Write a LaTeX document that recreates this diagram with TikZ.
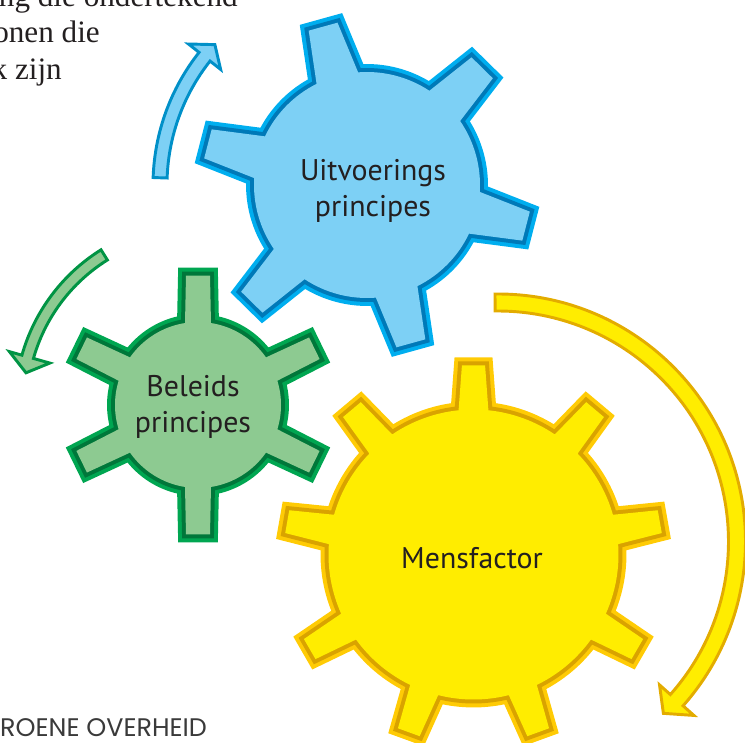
\documentclass[tikz,border=0pt]{standalone}
\usepackage{fontspec}
\setmainfont{Liberation Serif}
\newfontfamily\cogfont{PT Sans}
\newfontfamily\footfont{Poppins}
\definecolor{bluefill}{HTML}{7DD0F5}
\definecolor{blueout}{HTML}{00AEEF}
\definecolor{bluein}{HTML}{0079B8}
\definecolor{bluearrow}{HTML}{0090C8}
\definecolor{greenfill}{HTML}{8DCA91}
\definecolor{greenout}{HTML}{00A651}
\definecolor{greenin}{HTML}{00773A}
\definecolor{greenarrow}{HTML}{009444}
\definecolor{yellowfill}{HTML}{FFED00}
\definecolor{yellowout}{HTML}{FFCB05}
\definecolor{yellowin}{HTML}{D9A300}
\definecolor{yellowarrow}{HTML}{E3AC00}
\definecolor{inktext}{HTML}{231F20}
\definecolor{footgray}{HTML}{3A3A3A}

\begin{document}
\begin{tikzpicture}[x=0.03cm,y=0.03cm,
  cog/.style n args={3}{preaction={draw=#2,line width=13.6pt,line join=miter},
    preaction={draw=#3,line width=6.8pt,line join=miter},fill=#1},
  bentarrow/.style n args={2}{fill=#1,draw=#2,line width=2.5pt,line join=miter},
  cogtext/.style={font=\cogfont\fontsize{25.5}{30.6}\selectfont,text=inktext,align=center,inner sep=0pt}]
\useasboundingbox (0,0) rectangle (745,742);
\clip (0,0) rectangle (745,742);
% gears
\path[cog={bluefill}{blueout}{bluein},shift={(367,557)},rotate=45.5]
  (-49:113) \foreach \a [remember=\a as \b (initially -60)] in {0,60,...,300}
  { arc[start angle=\b+11,end angle=\a-11,radius=113] -- (\a-5.2:165) -- (\a+5.2:165) -- (\a+11:113) } -- cycle;
\path[cog={greenfill}{greenout}{greenin},shift={(198,337)}]
  (-17:83) \foreach \a [remember=\a as \b (initially -26)] in {26,90,154,206,270,334}
  { arc[start angle=\b+9,end angle=\a-9,radius=83] -- (\a-5.3:130) -- (\a+5.3:130) -- (\a+9:83) } -- cycle;
\path[cog={yellowfill}{yellowout}{yellowin},shift={(473.5,187.5)},rotate=10]
  (-34.1:145) \foreach \a [remember=\a as \b (initially -40)] in {0,40,...,320}
  { arc[start angle=\b+5.9,end angle=\a-5.9,radius=145] -- (\a-3.5:189.5) -- (\a+3.5:189.5) -- (\a+5.9:145) } -- cycle;
% arrows round the gears
\path[bentarrow={bluefill}{bluearrow},shift={(367,557)}]
  (178:214) arc[start angle=178,end angle=141.7,radius=214] -- (141.7:227.5) -- (137.3:207)
  -- (141.7:186.5) -- (141.7:200) arc[start angle=141.7,end angle=178,radius=200] -- cycle;
\path[bentarrow={greenfill}{greenarrow},shift={(198,337)}]
  (122:183) arc[start angle=122,end angle=164.2,radius=183] -- (164.2:196) -- (169.4:175)
  -- (164.2:154) -- (164.2:171) arc[start angle=164.2,end angle=122,radius=171] -- cycle;
\path[bentarrow={yellowfill}{yellowarrow},shift={(498,200.5)}]
  (90.7:247.5) arc[start angle=90.7,end angle=-41.6,radius=247.5] -- (-41.6:262) -- (-46.1:238.5)
  -- (-41.6:216) -- (-41.6:230.5) arc[start angle=-41.6,end angle=90.7,radius=230.5] -- cycle;
% labels
\node[cogtext] (uitv) at (373,551) {Uitvoerings\\principes};
\node[cogtext] (beleid) at (193,335) {Beleids\\principes};
\node[cogtext,anchor=base] (mens) at (472,173) {Mensfactor};
\foreach \y/\txt/\x in {735/ing die ondertekend/238, 699/onen die/100, 662/k zijn/62}
  \node[anchor=base east,inner sep=0pt,text=inktext,font=\fontsize{26.6}{32}\selectfont] (intro\y) at (\x,\y) {\txt};
\node[anchor=base west,inner sep=0pt,text=footgray,font=\footfont\fontsize{21.7}{26}\selectfont] (footer) at (0,6) {ROENE OVERHEID};
\end{tikzpicture}
\end{document}
